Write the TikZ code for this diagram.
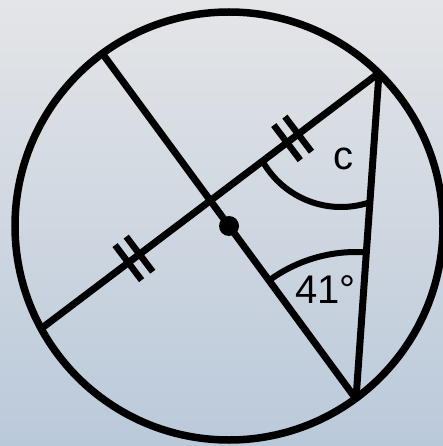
\documentclass[tikz,border=0pt]{standalone}
\usepackage{fontspec}
\setmainfont{Liberation Sans}
\usetikzlibrary{calc}
\definecolor{bgtop}{RGB}{228,229,231}
\definecolor{bgmid}{RGB}{207,214,222}
\definecolor{bgbot}{RGB}{186,201,218}
\begin{document}
\begin{tikzpicture}[x=1pt,y=-1pt,
  geo/.style={line width=7pt, draw=black},
  rim/.style={line width=7.5pt, draw=black},
  tickmark/.style={line width=6.5pt, draw=black},
  anglemark/.style={line width=6pt, draw=black},
  lbl/.style={font=\fontsize{40}{40}\selectfont, inner sep=0pt, anchor=base west}]
\useasboundingbox (0,0) rectangle (443,446);
\shade[top color=bgtop, middle color=bgmid, bottom color=bgbot] (0,0) rectangle (443,446);
% points
\coordinate (O) at (229,226);
\coordinate (T) at (379,73);
\coordinate (A) at (42,328);
\coordinate (B) at (356,399);
\coordinate (D) at (102,53);
\coordinate (Cc) at (341,117);
\coordinate (Lc) at (133.9,258.4);
\coordinate (Uc) at (292.6,138.4);
% circle and lines
\draw[rim] (O) circle[radius=214];
\draw[geo] (D) -- (B);
\draw[geo] (A) -- (T);
\draw[geo] (T) -- (B);
\fill (O) circle[radius=10];
% tick marks
\begin{scope}[shift={(Lc)}, rotate=37.1]
  \draw[tickmark] (-7,-22) -- (-7,22);
  \draw[tickmark] (7,-22) -- (7,22);
\end{scope}
\begin{scope}[shift={(Uc)}, rotate=37.1]
  \draw[tickmark] (-7,-22) -- (-7,22);
  \draw[tickmark] (7,-22) -- (7,22);
\end{scope}
% angle marks
\draw[anglemark] ($(Cc)+(151:90)$) arc[start angle=151, end angle=71, radius=90];
\draw[anglemark] ($(B)+(-126.3:147)$) arc[start angle=-126.3, end angle=-85.5, radius=147];
% labels
\node[lbl] (c) at (333.5,169.5) {c};
\node[lbl] (ang) at (295,303) {41°};
\end{tikzpicture}
\end{document}
